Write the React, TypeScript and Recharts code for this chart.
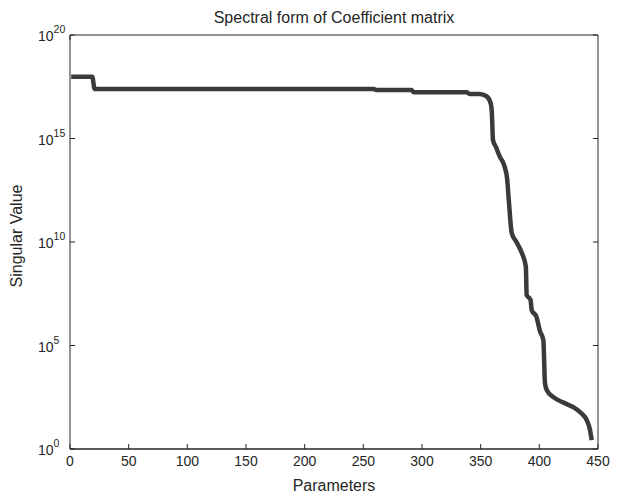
import { LineChart, Line, XAxis, YAxis } from "recharts";

// values (x = parameter index, y = singular value)
const params = [
  1, 19, 21, 259, 261, 291, 293, 338, 341, 349, 355, 358.5, 359.5, 360.5, 363,
  366.5, 370, 372.5, 374, 376.5, 380.5, 385, 388.5, 389.2, 392.5, 393.5, 397.5,
  400.5, 403.4, 404.8, 406.3, 412, 420.5, 430.4, 436, 440.4, 443.2, 444.6,
];
const singularValues = [
  9.5e17, 9.5e17, 2.45e17, 2.45e17, 2.2e17, 2.2e17, 1.7e17, 1.7e17, 1.4e17,
  1.4e17, 1.1e17, 5.1e16, 1.9e16, 8.5e14, 3.9e14, 1.26e14, 5.2e13, 1.2e13, 1e12,
  2.7e10, 1e10, 3e9, 6.5e8, 2.75e7, 1.6e7, 5.1e6, 2.45e6, 5e5, 1.86e5, 1.55e3,
  710, 320, 174, 93, 52, 25, 8.3, 2.7,
];
const xTicks = [0, 50, 100, 150, 200, 250, 300, 350, 400, 450];
const yTicks = [1, 1e5, 1e10, 1e15, 1e20];

const data = params.map((p, i) => ({ p, v: singularValues[i] }));

const INK = "#262626";
const FONT = "'Liberation Sans', Arial, Helvetica, sans-serif";

const BottomTick = ({ x, y, payload }: any) => (
  <g>
    <line x1={x} y1={y} x2={x} y2={y - 5} stroke={INK} />
    <text x={x} y={y + 17} textAnchor="middle" fontSize={14} fill={INK} fontFamily={FONT}>
      {payload.value}
    </text>
  </g>
);

const TopTick = ({ x, y }: any) => (
  <line x1={x} y1={y} x2={x} y2={y + 5} stroke={INK} />
);

const LeftTick = ({ x, y, payload }: any) => {
  const exp = Math.round(Math.log10(payload.value));
  return (
    <g>
      <line x1={x} y1={y} x2={x + 5} y2={y} stroke={INK} />
      <text x={x - 32} y={y + 6} fontSize={14} fill={INK} fontFamily={FONT}>
        10
        <tspan dy={-8} fontSize={10.5}>
          {exp}
        </tspan>
      </text>
    </g>
  );
};

const RightTick = ({ x, y }: any) => (
  <line x1={x} y1={y} x2={x - 5} y2={y} stroke={INK} />
);

const Title = ({ viewBox }: any) => (
  <text
    x={viewBox.x + viewBox.width / 2}
    y={viewBox.y - 11}
    textAnchor="middle"
    fontSize={16}
    fill={INK}
    fontFamily={FONT}
  >
    Spectral form of Coefficient matrix
  </text>
);

const XLabel = ({ viewBox }: any) => (
  <text
    x={viewBox.x + viewBox.width / 2}
    y={viewBox.y + 42}
    textAnchor="middle"
    fontSize={16}
    fill={INK}
    fontFamily={FONT}
  >
    Parameters
  </text>
);

const YLabel = ({ viewBox }: any) => {
  const cx = 22;
  const cy = viewBox.y + viewBox.height / 2 - 6;
  return (
    <text
      x={cx}
      y={cy}
      transform={`rotate(-90 ${cx} ${cy})`}
      textAnchor="middle"
      fontSize={16}
      fill={INK}
      fontFamily={FONT}
    >
      Singular Value
    </text>
  );
};

export default function App() {
  return (
    <div style={{ position: "absolute", left: 0, top: 0, background: "#fff" }}>
      <LineChart
        width={619}
        height={496}
        data={data}
        margin={{ top: 34, right: 20, bottom: 46, left: 69 }}
      >
        <XAxis
          dataKey="p"
          type="number"
          domain={[0, 450]}
          ticks={xTicks}
          interval={0}
          height={1}
          tickSize={0}
          tickMargin={0}
          tickLine={false}
          tick={BottomTick}
          axisLine={{ stroke: INK, strokeWidth: 1.5 }}
          label={{ content: XLabel }}
        />
        <XAxis
          xAxisId="top"
          orientation="top"
          type="number"
          domain={[0, 450]}
          ticks={xTicks}
          interval={0}
          height={1}
          tickSize={0}
          tickMargin={0}
          tickLine={false}
          tick={TopTick}
          axisLine={{ stroke: INK }}
          label={{ content: Title }}
        />
        <YAxis
          type="number"
          scale="log"
          domain={[1, 1e20]}
          allowDataOverflow
          ticks={yTicks}
          interval={0}
          width={1}
          tickSize={0}
          tickMargin={0}
          tickLine={false}
          tick={LeftTick}
          axisLine={{ stroke: INK }}
          label={{ content: YLabel }}
        />
        <YAxis
          yAxisId="right"
          orientation="right"
          type="number"
          scale="log"
          domain={[1, 1e20]}
          allowDataOverflow
          ticks={yTicks}
          interval={0}
          width={1}
          tickSize={0}
          tickMargin={0}
          tickLine={false}
          tick={RightTick}
          axisLine={{ stroke: INK }}
        />
        <Line
          dataKey="v"
          type="monotone"
          stroke="#3a3a3a"
          strokeWidth={4.5}
          dot={false}
          isAnimationActive={false}
        />
      </LineChart>
    </div>
  );
}
